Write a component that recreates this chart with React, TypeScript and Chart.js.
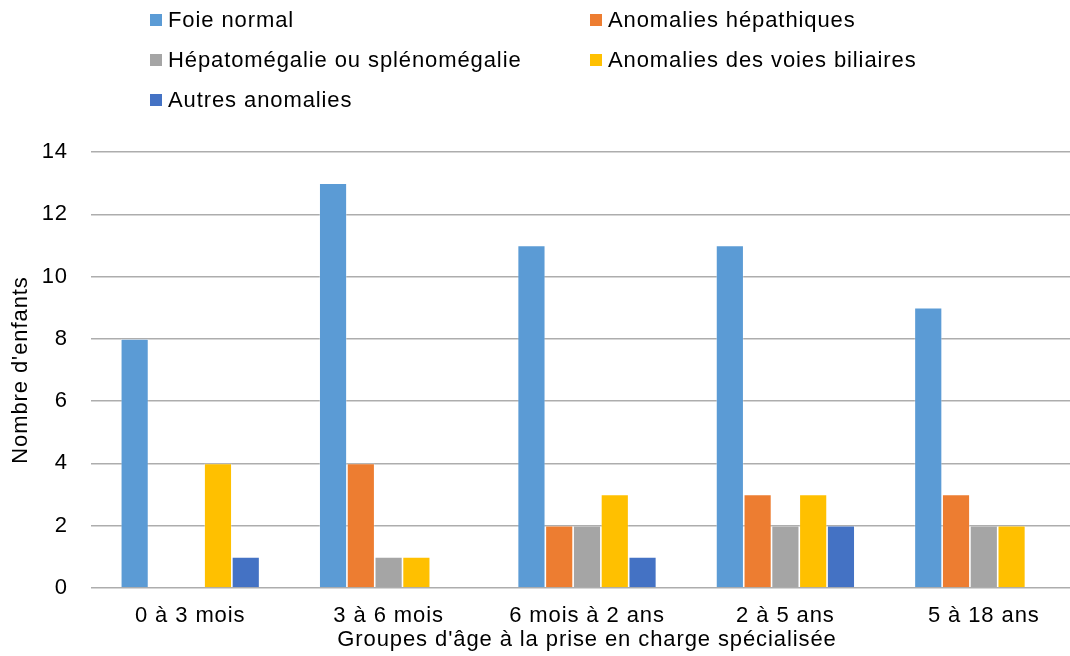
import React, { useEffect, useRef } from "react";
import { Chart, registerables } from "chart.js";

Chart.register(...registerables);

const categories = ["0 à 3 mois", "3 à 6 mois", "6 mois à 2 ans", "2 à 5 ans", "5 à 18 ans"];
const seriesNames = [
  "Foie normal",
  "Anomalies hépathiques",
  "Hépatomégalie ou splénomégalie",
  "Anomalies des voies biliaires",
  "Autres anomalies",
];
const foieNormal = [8, 13, 11, 11, 9];
const anomaliesHepatiques = [0, 4, 2, 3, 3];
const hepatoSpleno = [0, 1, 2, 2, 2];
const voiesBiliaires = [4, 1, 3, 3, 2];
const autresAnomalies = [1, 0, 1, 2, 0];
const seriesColors = ["#5B9BD5", "#ED7D31", "#A5A5A5", "#FFC000", "#4472C4"];
const yTitle = "Nombre d'enfants";
const xTitle = "Groupes d'âge à la prise en charge spécialisée";

const FONT = "'Liberation Sans', Arial, Helvetica, sans-serif";
const FS = 22;
const SPACING = "0.9px";

const setSpacing = (chart: any) => {
  try {
    chart.ctx.letterSpacing = SPACING;
  } catch (e) {}
};

const spacingPlugin = {
  id: "letterSpacing",
  beforeUpdate: setSpacing,
  beforeLayout: setSpacing,
  beforeDraw: setSpacing,
};

const legendPlugin = {
  id: "gridLegend",
  afterDraw(chart: any) {
    const ctx = chart.ctx;
    ctx.save();
    ctx.font = `${FS}px ${FONT}`;
    ctx.textBaseline = "middle";
    ctx.textAlign = "left";
    const cols = [150, 590];
    const rows = [20, 60, 100];
    chart.data.datasets.forEach((ds: any, i: number) => {
      const x = cols[i % 2];
      const y = rows[Math.floor(i / 2)];
      ctx.fillStyle = ds.backgroundColor;
      ctx.fillRect(x, y - 6, 12, 12);
      ctx.fillStyle = "#000";
      ctx.fillText(ds.label, x + 18, y + 1);
    });
    ctx.restore();
  },
};

export default function App() {
  const ref = useRef<HTMLCanvasElement>(null);
  useEffect(() => {
    document.body.style.margin = "0";
    const seriesData = [foieNormal, anomaliesHepatiques, hepatoSpleno, voiesBiliaires, autresAnomalies];
    const chart = new Chart(ref.current!, {
      type: "bar",
      data: {
        labels: categories,
        datasets: seriesNames.map((name, i) => ({
          label: name,
          data: seriesData[i],
          backgroundColor: seriesColors[i],
          borderColor: "rgba(255,255,255,0.4)",
          borderWidth: 0.8,
          categoryPercentage: 0.7,
          barPercentage: 1,
        })),
      },
      options: {
        animation: false,
        responsive: true,
        maintainAspectRatio: false,
        layout: { padding: { top: 152, right: 7, left: 8, bottom: 3 } },
        plugins: {
          legend: { display: false },
          tooltip: { enabled: false },
        },
        scales: {
          x: {
            grid: { display: false, drawTicks: false },
            border: { display: false },
            ticks: { color: "#000", font: { family: FONT, size: FS }, padding: 15 },
            title: {
              display: true,
              text: xTitle,
              color: "#000",
              font: { family: FONT, size: FS },
              padding: 0,
            },
            afterFit: (scale: any) => {
              scale.height = 65;
            },
          },
          y: {
            min: 0,
            max: 14,
            ticks: { stepSize: 2, color: "#000", font: { family: FONT, size: FS }, padding: 23 },
            grid: { color: "#ADADAD", lineWidth: 1.5, drawTicks: false },
            border: { display: false },
            title: {
              display: true,
              text: yTitle,
              color: "#000",
              font: { family: FONT, size: FS },
              padding: 0,
            },
            afterFit: (scale: any) => {
              scale.width = 83;
            },
          },
        },
      },
      plugins: [spacingPlugin, legendPlugin],
    });
    return () => chart.destroy();
  }, []);
  return (
    <div style={{ width: 1070, height: 656, overflow: "hidden", position: "relative" }}>
      <div style={{ width: 1090, height: 656, position: "relative" }}>
        <canvas ref={ref} />
      </div>
    </div>
  );
}
